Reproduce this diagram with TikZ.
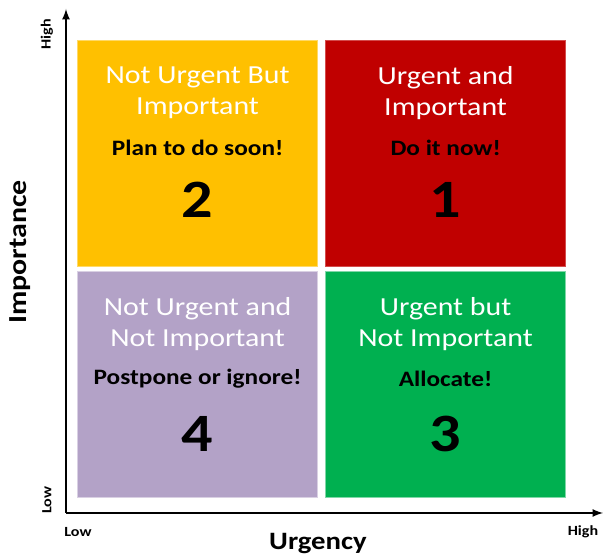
\documentclass[tikz,border=0pt]{standalone}
\usepackage{fontspec}
\setmainfont[FakeStretch=1.15]{Carlito}
\usepackage{tikz}
\usetikzlibrary{calc, positioning}

\definecolor{yellowq}{HTML}{FFC000}
\definecolor{redq}{HTML}{C00000}
\definecolor{purpleq}{HTML}{B3A2C7}
\definecolor{greenq}{HTML}{00B050}

\begin{document}
\begin{tikzpicture}[x=1pt, y=1pt, >=latex,
    quad/.style={minimum width=240, minimum height=226, inner sep=0, line width=1.2, anchor=north west},
    title/.style={text=white, align=center, font=\fontsize{26}{31}\selectfont},
    task/.style={text=black, font=\fontsize{22}{26}\selectfont\bfseries},
    rank/.style={text=black, font=\fontsize{54}{60}\selectfont\bfseries},
    axislabel/.style={text=black, font=\fontsize{14}{16}\selectfont\bfseries}]
      \useasboundingbox (0,0) rectangle (603,556);

      \coordinate (o) at (66,43);
      \coordinate (ytop) at (66,547);
      \coordinate (xend) at (603,43);
      \draw[->, line width=2.5] (o) -- (ytop);
      \draw[->, line width=2.5] (o) -- (xend);

      \node[quad, fill=yellowq, draw=yellowq!60!white] (q2) at (77,516) {};
      \node[quad, fill=redq, draw=redq!70!white] (q1) at (325,516) {};
      \node[quad, fill=purpleq, draw=purpleq!50!white] (q4) at (77,285) {};
      \node[quad, fill=greenq, draw=greenq!50!white] (q3) at (325,285) {};

      \node[title] (t2) at ($(q2.north)+(0,-53)$) {Not Urgent But\\Important};
      \node[task] (d2) at ($(q2.north)+(0,-108)$) {Plan to do soon!};
      \node[rank] (n2) at ($(q2.north)+(0,-160)$) {2};

      \node[title] (t1) at ($(q1.north)+(0,-53)$) {Urgent and\\Important};
      \node[task] (d1) at ($(q1.north)+(0,-108)$) {Do it now!};
      \node[rank] (n1) at ($(q1.north)+(0,-160)$) {1};

      \node[title] (t4) at ($(q4.north)+(0,-53)$) {Not Urgent and\\Not Important};
      \node[task] (d4) at ($(q4.north)+(0,-108)$) {Postpone or ignore!};
      \node[rank] (n4) at ($(q4.north)+(0,-163)$) {4};

      \node[title] (t3) at ($(q3.north)+(0,-53)$) {Urgent but\\Not Important};
      \node[task] (d3) at ($(q3.north)+(0,-108)$) {Allocate!};
      \node[rank] (n3) at ($(q3.north)+(0,-163)$) {3};

      \node[axislabel, rotate=90] (yhigh) at (47,522) {High};
      \node[axislabel, rotate=90] (ylow) at (47,56) {Low};
      \node[axislabel] (xlow) at (78,24) {Low};
      \node[axislabel] (xhigh) at (583,24) {High};
      \node[rotate=90, font=\fontsize{26}{30}\selectfont\bfseries] (imp) at (20,304) {Importance};
      \node[anchor=base, font=\fontsize{25}{30}\selectfont\bfseries] (urg) at (318,6) {Urgency};
\end{tikzpicture}
\end{document}
